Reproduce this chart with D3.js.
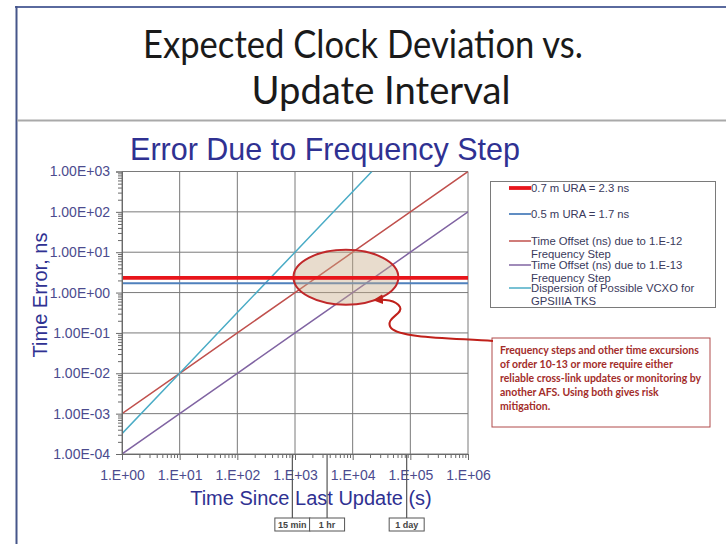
<!DOCTYPE html>
<html>
<head>
<meta charset="utf-8">
<script src="https://cdn.jsdelivr.net/npm/d3@7"></script>
<style>
  body { margin: 0; background: #ffffff; }
  svg { display: block; }
</style>
</head>
<body>
<svg id="chart" width="726" height="544"></svg>
<script>
// values
const times = [1, 10, 100, 1000, 10000, 100000, 1000000];
const step12 = [1e-3, 1e-2, 1e-1, 1, 10, 100, 1000];
const step13 = [1e-4, 1e-3, 1e-2, 1e-1, 1, 10, 100];
const vcxoTimes = [1, 10, 100, 1000, 21500];
const vcxo = [3.2e-4, 1e-2, 3.2e-1, 10, 1000];
const ura07 = 2.3;
const ura05 = 1.7;

const xTicks = [1, 10, 100, 1e3, 1e4, 1e5, 1e6];
const xTickLabels = ["1.E+00", "1.E+01", "1.E+02", "1.E+03", "1.E+04", "1.E+05", "1.E+06"];
const yTicks = [1e-4, 1e-3, 1e-2, 1e-1, 1, 10, 100, 1000];
const yTickLabels = ["1.00E-04", "1.00E-03", "1.00E-02", "1.00E-01", "1.00E+00", "1.00E+01", "1.00E+02", "1.00E+03"];

const intervalNames = ["15 min", "1 hr", "1 day"];
const intervalSecs = [900, 3600, 86400];

const legendNames = [
    ["0.7 m URA = 2.3 ns"],
    ["0.5 m URA = 1.7 ns"],
    ["Time Offset (ns) due to 1.E-12", "Frequency Step"],
    ["Time Offset (ns) due to 1.E-13", "Frequency Step"],
    ["Dispersion of Possible VCXO for", "GPSIIIA TKS"],
];
const legendColors = ["#e8151b", "#4f81bd", "#c0504d", "#8064a2", "#4bacc6"];
const legendWidths = [3.8, 1.8, 1.5, 1.5, 1.5];

// region of interest (ellipse) in data units
const roiTime = [940, 62000];
const roiErr = [0.5, 11.5];

const noteLines = [
    "Frequency steps and other time excursions",
    "of order 10-13 or more require  either",
    "reliable cross-link updates or monitoring by",
    "another AFS.   Using both gives risk",
    "mitigation.",
];

const navy = "#2f3192";
const svg = d3.select("#chart");

// slide frame
svg.append("line").attr("x1", 15).attr("x2", 726).attr("y1", 7).attr("y2", 7)
    .attr("stroke", "#5a6a9e").attr("stroke-width", 2);
svg.append("line").attr("x1", 16.5).attr("x2", 16.5).attr("y1", 6).attr("y2", 544)
    .attr("stroke", "#46568a").attr("stroke-width", 2);
svg.append("line").attr("x1", 17).attr("x2", 726).attr("y1", 120.5).attr("y2", 120.5)
    .attr("stroke", "#a9a9a9").attr("stroke-width", 2);

svg.append("text").attr("x", 363).attr("y", 58).attr("text-anchor", "middle")
    .attr("font-family", "Lato, 'Open Sans', sans-serif").attr("font-size", 38)
    .attr("textLength", 440).attr("lengthAdjust", "spacingAndGlyphs")
    .attr("fill", "#1a1a1a").text("Expected Clock Deviation vs.");
svg.append("text").attr("x", 381).attr("y", 104).attr("text-anchor", "middle")
    .attr("font-family", "Lato, 'Open Sans', sans-serif").attr("font-size", 38)
    .attr("textLength", 259).attr("lengthAdjust", "spacingAndGlyphs")
    .attr("fill", "#1a1a1a").text("Update Interval");

// chart
const x = d3.scaleLog().domain([1, 1e6]).range([122, 468]);
const y = d3.scaleLog().domain([1e-4, 1e3]).range([454, 171.5]);

svg.append("text").attr("x", 325).attr("y", 160).attr("text-anchor", "middle")
    .attr("font-family", "Arial, 'Liberation Sans', sans-serif").attr("font-size", 30.5)
    .attr("fill", navy).text("Error Due to Frequency Step");

// grid
svg.append("g").selectAll("line.gx").data(xTicks).enter().append("line")
    .attr("x1", d => x(d)).attr("x2", d => x(d)).attr("y1", y(1e3)).attr("y2", y(1e-4))
    .attr("stroke", "#7a7a7a").attr("stroke-width", 1);
svg.append("g").selectAll("line.gy").data(yTicks).enter().append("line")
    .attr("x1", x(1)).attr("x2", x(1e6)).attr("y1", d => y(d)).attr("y2", d => y(d))
    .attr("stroke", "#7a7a7a").attr("stroke-width", 1);

svg.append("clipPath").attr("id", "plotclip").append("rect")
    .attr("x", x(1)).attr("y", y(1e3)).attr("width", x(1e6) - x(1)).attr("height", y(1e-4) - y(1e3));

const plot = svg.append("g").attr("clip-path", "url(#plotclip)");
const line = d3.line().x(d => x(d[0])).y(d => y(d[1]));

plot.append("path").datum(times.map((t, i) => [t, step13[i]])).attr("d", line)
    .attr("fill", "none").attr("stroke", legendColors[3]).attr("stroke-width", 1.5);
plot.append("path").datum(times.map((t, i) => [t, step12[i]])).attr("d", line)
    .attr("fill", "none").attr("stroke", legendColors[2]).attr("stroke-width", 1.5);
plot.append("path").datum(vcxoTimes.map((t, i) => [t, vcxo[i]])).attr("d", line)
    .attr("fill", "none").attr("stroke", legendColors[4]).attr("stroke-width", 1.5);
plot.append("path").datum([[1, ura05], [1e6, ura05]]).attr("d", line)
    .attr("fill", "none").attr("stroke", legendColors[1]).attr("stroke-width", 1.8);

// ellipse
const ex0 = x(roiTime[0]), ex1 = x(roiTime[1]);
const ey0 = y(roiErr[1]), ey1 = y(roiErr[0]);
svg.append("ellipse").attr("cx", (ex0 + ex1) / 2).attr("cy", (ey0 + ey1) / 2)
    .attr("rx", (ex1 - ex0) / 2).attr("ry", (ey1 - ey0) / 2)
    .attr("fill", "rgba(200,172,135,0.42)").attr("stroke", "#c0282a").attr("stroke-width", 2);

// the 0.7 m URA line stays bright over the ellipse
svg.append("path").attr("clip-path", "url(#plotclip)")
    .datum([[1, ura07], [1e6, ura07]]).attr("d", line)
    .attr("fill", "none").attr("stroke", legendColors[0]).attr("stroke-width", 3.8);

// axes
const yAxis = d3.axisLeft(y).tickValues(yTicks).tickSize(6).tickPadding(6)
    .tickFormat((d, i) => yTickLabels[i]);
const yMinor = [];
yTicks.slice(0, -1).forEach(d => { for (let k = 2; k <= 9; k++) yMinor.push(d * k); });
const xMinor = [];
xTicks.slice(0, -1).forEach(d => { for (let k = 2; k <= 9; k++) xMinor.push(d * k); });

const gy = svg.append("g").attr("transform", `translate(${x(1)},0)`).call(yAxis);
svg.append("g").attr("transform", `translate(${x(1)},0)`)
    .call(d3.axisLeft(y).tickValues(yMinor).tickSize(4).tickFormat(""))
    .call(g => g.select(".domain").remove());
const xAxis = d3.axisBottom(x).tickValues(xTicks).tickSize(6).tickPadding(10)
    .tickFormat((d, i) => xTickLabels[i]);
const gx = svg.append("g").attr("transform", `translate(0,${y(1e-4)})`).call(xAxis);
svg.append("g").attr("transform", `translate(0,${y(1e-4)})`)
    .call(d3.axisBottom(x).tickValues(xMinor).tickSize(4).tickFormat(""))
    .call(g => g.select(".domain").remove());

svg.selectAll(".domain").attr("stroke", "#6a6a6a");
svg.selectAll(".tick line").attr("stroke", "#6a6a6a");
[gx, gy].forEach(g => g.selectAll("text")
    .attr("font-family", "Arial, 'Liberation Sans', sans-serif").attr("font-size", 14)
    .attr("fill", "#4b4b8e"));

svg.append("text").attr("transform", "translate(47,295) rotate(-90)")
    .attr("text-anchor", "middle").attr("font-family", "Arial, 'Liberation Sans', sans-serif")
    .attr("font-size", 20).attr("fill", navy).text("Time Error, ns");
svg.append("text").attr("x", 311).attr("y", 505).attr("text-anchor", "middle")
    .attr("font-family", "Arial, 'Liberation Sans', sans-serif")
    .attr("font-size", 20).attr("fill", navy).text("Time Since Last Update (s)");

// interval markers
const marks = svg.append("g").selectAll("g").data(intervalSecs).enter().append("g");
marks.append("line").attr("x1", d => x(d)).attr("x2", d => x(d))
    .attr("y1", y(1e-4) + 1).attr("y2", 518).attr("stroke", "#555").attr("stroke-width", 1.2);
marks.append("rect").attr("x", d => x(d) - 17.5).attr("y", 518).attr("width", 35).attr("height", 13)
    .attr("fill", "#fff").attr("stroke", "#555").attr("stroke-width", 1);
marks.append("text").attr("x", d => x(d)).attr("y", 528).attr("text-anchor", "middle")
    .attr("font-family", "Arial, 'Liberation Sans', sans-serif").attr("font-size", 9)
    .attr("font-weight", "bold").attr("fill", "#444").text((d, i) => intervalNames[i]);

// legend
svg.append("rect").attr("x", 490.5).attr("y", 181.5).attr("width", 225).attr("height", 126)
    .attr("fill", "#fff").attr("stroke", "#7a7a7a").attr("stroke-width", 1);
const legendY = [188, 214, 241, 265, 288];
const leg = svg.append("g").selectAll("g").data(legendNames).enter().append("g")
    .attr("transform", (d, i) => `translate(0,${legendY[i]})`);
leg.append("line").attr("x1", 509).attr("x2", 531).attr("y1", 0).attr("y2", 0)
    .attr("stroke", (d, i) => legendColors[i]).attr("stroke-width", (d, i) => legendWidths[i]);
leg.append("text").attr("x", 531).attr("y", 4)
    .attr("font-family", "Arial, 'Liberation Sans', sans-serif").attr("font-size", 11.3)
    .attr("fill", "#3a3a5c")
    .selectAll("tspan").data(d => d).enter().append("tspan")
    .attr("x", 531).attr("dy", (d, i) => i === 0 ? 0 : 12.5).text(d => d);

// annotation box
svg.append("rect").attr("x", 492).attr("y", 338).attr("width", 218).attr("height", 89)
    .attr("fill", "#fff").attr("stroke", "#b04a4a").attr("stroke-width", 1);
const note = svg.append("g");
const noteText = note.append("text").attr("font-family", "Lato, 'Open Sans', sans-serif")
    .attr("font-size", 11.5).attr("font-weight", "bold").attr("fill", "#a32d2a");
noteText.selectAll("tspan").data(noteLines).enter().append("tspan")
    .attr("x", 0).attr("y", (d, i) => i * 14).text(d => d);
// squeeze the note so its first line spans the box like the reference
const firstLen = noteText.select("tspan").node().getComputedTextLength();
note.attr("transform", `translate(500,354) scale(${199 / firstLen},1)`);

// curvy arrow from the note to the ellipse
const defs = svg.append("defs");
defs.append("marker").attr("id", "head").attr("viewBox", "0 0 10 10")
    .attr("refX", 8).attr("refY", 5).attr("markerWidth", 5).attr("markerHeight", 5)
    .attr("orient", "auto").append("path").attr("d", "M0,0 L10,5 L0,10 Z").attr("fill", "#c0201a");
svg.append("path")
    .attr("d", "M493,341 C450,338 400,338 391,328 C384,318 404,314 400,307 C396,300 384,299 375,300")
    .attr("fill", "none").attr("stroke", "#c0201a").attr("stroke-width", 2)
    .attr("marker-end", "url(#head)");
</script>
</body>
</html>
